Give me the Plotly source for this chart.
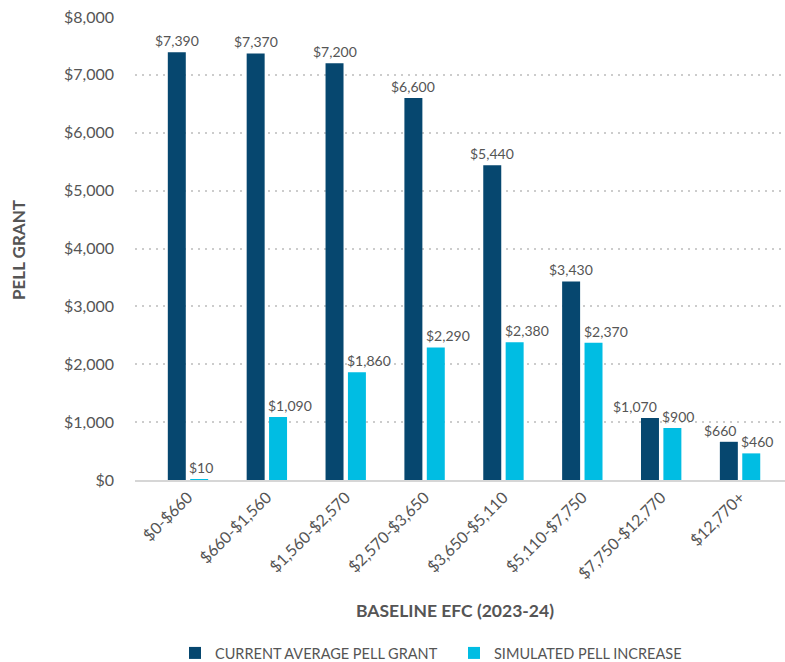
import plotly.graph_objects as go

# EFC bands and average Pell amounts
categories = ["$0-$660", "$660-$1,560", "$1,560-$2,570", "$2,570-$3,650",
              "$3,650-$5,110", "$5,110-$7,750", "$7,750-$12,770", "$12,770+"]
current_avg = [7390, 7370, 7200, 6600, 5440, 3430, 1070, 660]
simulated_increase = [10, 1090, 1860, 2290, 2380, 2370, 900, 460]
y_ticks = [0, 1000, 2000, 3000, 4000, 5000, 6000, 7000, 8000]
y_tick_labels = ["$" + f"{v:,}" for v in y_ticks]

DARK = "#06476f"
LIGHT = "#00bde3"
TEXT = "#555555"
FONT = "Lato"

BAR_W = 0.228
DARK_OFF = -0.256
LIGHT_OFF = 0.028


def money(v):
    return "$" + f"{v:,}"


fig = go.Figure()
fig.add_trace(go.Bar(
    x=categories, y=current_avg, name="CURRENT AVERAGE PELL GRANT",
    marker=dict(color=DARK, line=dict(width=0)),
    width=BAR_W, offset=DARK_OFF,
))
fig.add_trace(go.Bar(
    x=categories, y=simulated_increase, name="SIMULATED PELL INCREASE",
    marker=dict(color=LIGHT, line=dict(width=0)),
    width=BAR_W, offset=LIGHT_OFF,
))

# Value labels: simulated labels start at the bar's left edge; current labels
# are centred, or pushed to the right edge when the pair is close in height.
annotations = []
label_font = dict(size=14, color=TEXT, family=FONT)
for i, (cur, sim) in enumerate(zip(current_avg, simulated_increase)):
    if cur - sim < 500:
        cx, anchor = i + DARK_OFF + BAR_W, "right"
    else:
        cx, anchor = i + DARK_OFF + BAR_W / 2, "center"
    annotations.append(dict(x=cx, y=cur, text=money(cur), xanchor=anchor,
                            yanchor="bottom", yshift=1, showarrow=False,
                            xref="x", yref="y", font=label_font))
    annotations.append(dict(x=i + LIGHT_OFF, y=sim, text=money(sim), xanchor="left",
                            yanchor="bottom", yshift=1, xshift=-3, showarrow=False,
                            xref="x", yref="y", font=label_font))

annotations += [
    dict(text="<b>PELL GRANT</b>", xref="paper", yref="paper",
         x=(19 - 135) / 650, y=(480 - 250) / 463, textangle=-90, showarrow=False,
         xanchor="center", yanchor="middle",
         font=dict(size=17, color=TEXT, family=FONT)),
    dict(text="<b>BASELINE EFC (2023-24)</b>", xref="paper", yref="paper",
         x=(455 - 135) / 650, y=(480 - 610) / 463, showarrow=False,
         xanchor="center", yanchor="middle",
         font=dict(size=17.5, color=TEXT, family=FONT)),
]

fig.update_layout(
    width=785, height=662,
    margin=dict(l=135, r=0, t=17, b=182),
    plot_bgcolor="white", paper_bgcolor="white",
    font=dict(family=FONT, color=TEXT),
    barmode="group",
    showlegend=True,
    legend=dict(orientation="h", xref="container", x=175 / 785, xanchor="left",
                yref="container", y=(662 - 653) / 662, yanchor="middle",
                entrywidth=234, entrywidthmode="pixels",
                font=dict(size=14.5, color=TEXT, family=FONT)),
    xaxis=dict(
        range=[-0.672, 7.57], showgrid=False, showline=True,
        linecolor="#d6d6d6", linewidth=1.5, ticks="", tickangle=-45,
        tickfont=dict(size=16, color=TEXT, family=FONT),
    ),
    yaxis=dict(
        range=[0, 8000], tickvals=y_ticks, ticktext=y_tick_labels,
        showgrid=True, gridcolor="#cccccc", griddash="2px,5px", gridwidth=1.5,
        zeroline=False, showline=False, ticks="", ticklabelstandoff=20,
        tickfont=dict(size=16, color=TEXT, family=FONT), layer="above traces",
    ),
    annotations=annotations,
)

fig.write_html("out.html")
